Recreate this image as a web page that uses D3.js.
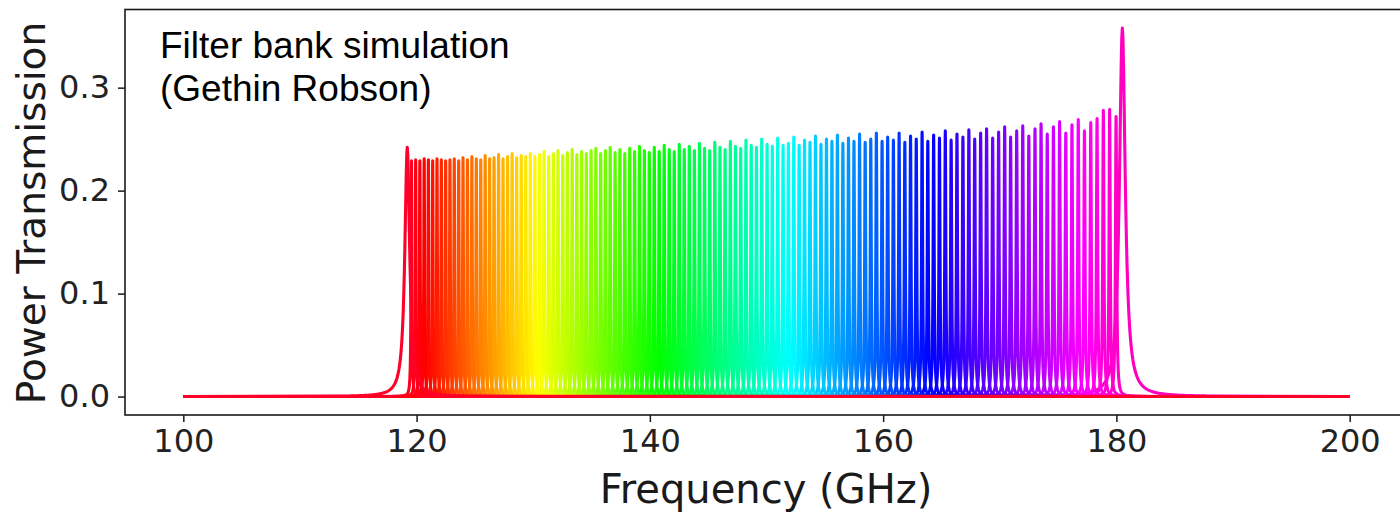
<!DOCTYPE html>
<meta charset="utf-8">
<script src="https://cdn.jsdelivr.net/npm/d3@7"></script>
<style>
  body { margin: 0; background: #fff; }
</style>
<div id="my_dataviz"></div>
<script>

// channel centre frequencies (GHz)
var centres = [
  119.20, 119.56, 119.92, 120.28, 120.65, 121.01, 121.38, 121.75, 122.12, 122.49,
  122.86, 123.23, 123.61, 123.98, 124.36, 124.74, 125.12, 125.50, 125.88, 126.26,
  126.64, 127.03, 127.41, 127.80, 128.19, 128.58, 128.97, 129.36, 129.75, 130.14,
  130.54, 130.93, 131.33, 131.73, 132.13, 132.53, 132.93, 133.34, 133.74, 134.15,
  134.55, 134.96, 135.37, 135.78, 136.19, 136.60, 137.02, 137.43, 137.85, 138.27,
  138.69, 139.11, 139.53, 139.95, 140.38, 140.80, 141.23, 141.66, 142.09, 142.52,
  142.95, 143.38, 143.82, 144.25, 144.69, 145.13, 145.57, 146.01, 146.45, 146.90,
  147.34, 147.79, 148.24, 148.69, 149.14, 149.59, 150.05, 150.50, 150.96, 151.42,
  151.88, 152.34, 152.80, 153.26, 153.73, 154.20, 154.67, 155.14, 155.61, 156.08,
  156.55, 157.03, 157.50, 157.98, 158.46, 158.94, 159.42, 159.91, 160.39, 160.88,
  161.37, 161.86, 162.35, 162.84, 163.34, 163.83, 164.33, 164.83, 165.33, 165.83,
  166.33, 166.84, 167.35, 167.85, 168.36, 168.87, 169.39, 169.90, 170.42, 170.93,
  171.45, 171.97, 172.49, 173.02, 173.54, 174.07, 174.60, 175.13, 175.66, 176.19,
  176.73, 177.26, 177.80, 178.34, 178.88, 179.42, 179.97, 180.51
];

// peak power transmission of each channel
var peaks = [
  0.242, 0.229, 0.230, 0.229, 0.231, 0.230, 0.229, 0.231, 0.230, 0.229,
  0.230, 0.231, 0.229, 0.232, 0.230, 0.233, 0.231, 0.230, 0.234, 0.231,
  0.232, 0.235, 0.231, 0.233, 0.236, 0.232, 0.234, 0.233, 0.236, 0.233,
  0.235, 0.238, 0.233, 0.236, 0.239, 0.234, 0.237, 0.240, 0.235, 0.238,
  0.236, 0.239, 0.241, 0.236, 0.239, 0.242, 0.237, 0.240, 0.236, 0.241,
  0.238, 0.243, 0.239, 0.237, 0.242, 0.238, 0.244, 0.240, 0.238, 0.245,
  0.240, 0.243, 0.239, 0.246, 0.241, 0.239, 0.247, 0.242, 0.240, 0.248,
  0.243, 0.241, 0.249, 0.244, 0.242, 0.250, 0.245, 0.243, 0.251, 0.244,
  0.246, 0.252, 0.244, 0.249, 0.247, 0.253, 0.245, 0.250, 0.248, 0.254,
  0.246, 0.251, 0.248, 0.255, 0.247, 0.250, 0.256, 0.248, 0.252, 0.249,
  0.256, 0.247, 0.253, 0.250, 0.257, 0.248, 0.254, 0.251, 0.258, 0.249,
  0.255, 0.252, 0.259, 0.250, 0.256, 0.260, 0.251, 0.257, 0.262, 0.252,
  0.258, 0.263, 0.253, 0.260, 0.265, 0.255, 0.262, 0.267, 0.256, 0.264,
  0.269, 0.258, 0.266, 0.270, 0.278, 0.279, 0.272, 0.358
];

// filter Q, and the broader half widths (GHz) of the two edge channels
var resolvingPower = 1500;
var edgeHalfWidth = [0.25, 0.3];

var xTicks = [100, 120, 140, 160, 180, 200];
var yTicks = [0.0, 0.1, 0.2, 0.3];
var note = ["Filter bank simulation", "(Gethin Robson)"];

// set the dimensions of the graph
var W = 1400, H = 516;
var svg = d3.select("#my_dataviz")
  .append("svg")
    .attr("width", W)
    .attr("height", H);

var x = d3.scaleLinear().domain([95, 205]).range([125, 1408]);
var y = d3.scaleLinear().domain([-0.0179, 0.3759]).range([415, 9.5]);

// matplotlib gist_rainbow colormap
var rainbow = d3.scaleLinear()
  .domain([0, 0.03, 0.215, 0.4, 0.586, 0.77, 0.954, 1])
  .range(["#ff0029", "#ff0000", "#ffff00", "#00ff00", "#00ffff", "#0000ff", "#ff00ff", "#ff00bf"]);

var n = centres.length;
var channels = centres.map(function(c, i) {
  var g = c / (2 * resolvingPower);
  if (i == 0) g = edgeHalfWidth[0];
  if (i == n - 1) g = edgeHalfWidth[1];
  return { c: c, h: peaks[i], g: g, col: rainbow(i / (n - 1)) };
});

// lorentzian response of one channel, sampled finely around its centre
function response(ch) {
  var pts = [[100, 0]];
  var step = ch.g / 6;
  var span = Math.max(3, 25 * ch.g);
  var K = Math.round(span / step);
  for (var k = -K; k <= K; k++) {
    var f = ch.c + k * step;
    if (f <= 100 || f >= 200) continue;
    var u = (f - ch.c) / ch.g;
    pts.push([f, ch.h / (1 + u * u)]);
  }
  pts.push([200, 0]);
  return pts;
}

var line = d3.line()
  .x(function(d) { return x(d[0]); })
  .y(function(d) { return y(d[1]); });

// draw last channel first so the red one ends on top
svg.append("g")
  .selectAll("path")
  .data(channels.slice().reverse())
  .enter()
  .append("path")
    .attr("d", function(d) { return line(response(d)); })
    .attr("fill", "none")
    .attr("stroke", function(d) { return d.col; })
    .attr("stroke-width", 3.1)
    .attr("stroke-linejoin", "round");

// frame
svg.append("rect")
  .attr("x", x(95)).attr("y", y(0.3759))
  .attr("width", x(205) - x(95)).attr("height", y(-0.0179) - y(0.3759))
  .attr("fill", "none")
  .attr("stroke", "#1a1a1a")
  .attr("stroke-width", 1.6);

// X axis
var gx = svg.append("g")
  .attr("transform", "translate(0," + y(-0.0179) + ")")
  .call(d3.axisBottom(x).tickValues(xTicks).tickSize(7).tickPadding(7).tickFormat(d3.format("d")));

// Y axis
var gy = svg.append("g")
  .attr("transform", "translate(" + x(95) + ",0)")
  .call(d3.axisLeft(y).tickValues(yTicks).tickSize(7).tickPadding(8).tickFormat(d3.format(".1f")));

[gx, gy].forEach(function(g) {
  g.select(".domain").remove();
  g.selectAll(".tick line").attr("stroke", "#1a1a1a").attr("stroke-width", 1.5);
  g.selectAll(".tick text")
    .attr("fill", "#222")
    .style("font-family", "DejaVu Sans")
    .style("font-size", "32px");
});

// axis titles
svg.append("text")
  .attr("x", 766).attr("y", 503)
  .attr("text-anchor", "middle")
  .style("font-family", "DejaVu Sans")
  .style("font-size", "40px")
  .attr("fill", "#1a1a1a")
  .text("Frequency (GHz)");

svg.append("text")
  .attr("transform", "translate(45,213) rotate(-90)")
  .attr("text-anchor", "middle")
  .style("font-family", "DejaVu Sans")
  .style("font-size", "39px")
  .attr("fill", "#1a1a1a")
  .text("Power Transmission");

// annotation
svg.append("g")
  .selectAll("text")
  .data(note)
  .enter()
  .append("text")
    .attr("x", 160)
    .attr("y", function(d, i) { return 58 + i * 43; })
    .style("font-family", "Liberation Sans, Arial, sans-serif")
    .style("font-size", "37px")
    .attr("fill", "#000")
    .text(function(d) { return d; });

</script>
